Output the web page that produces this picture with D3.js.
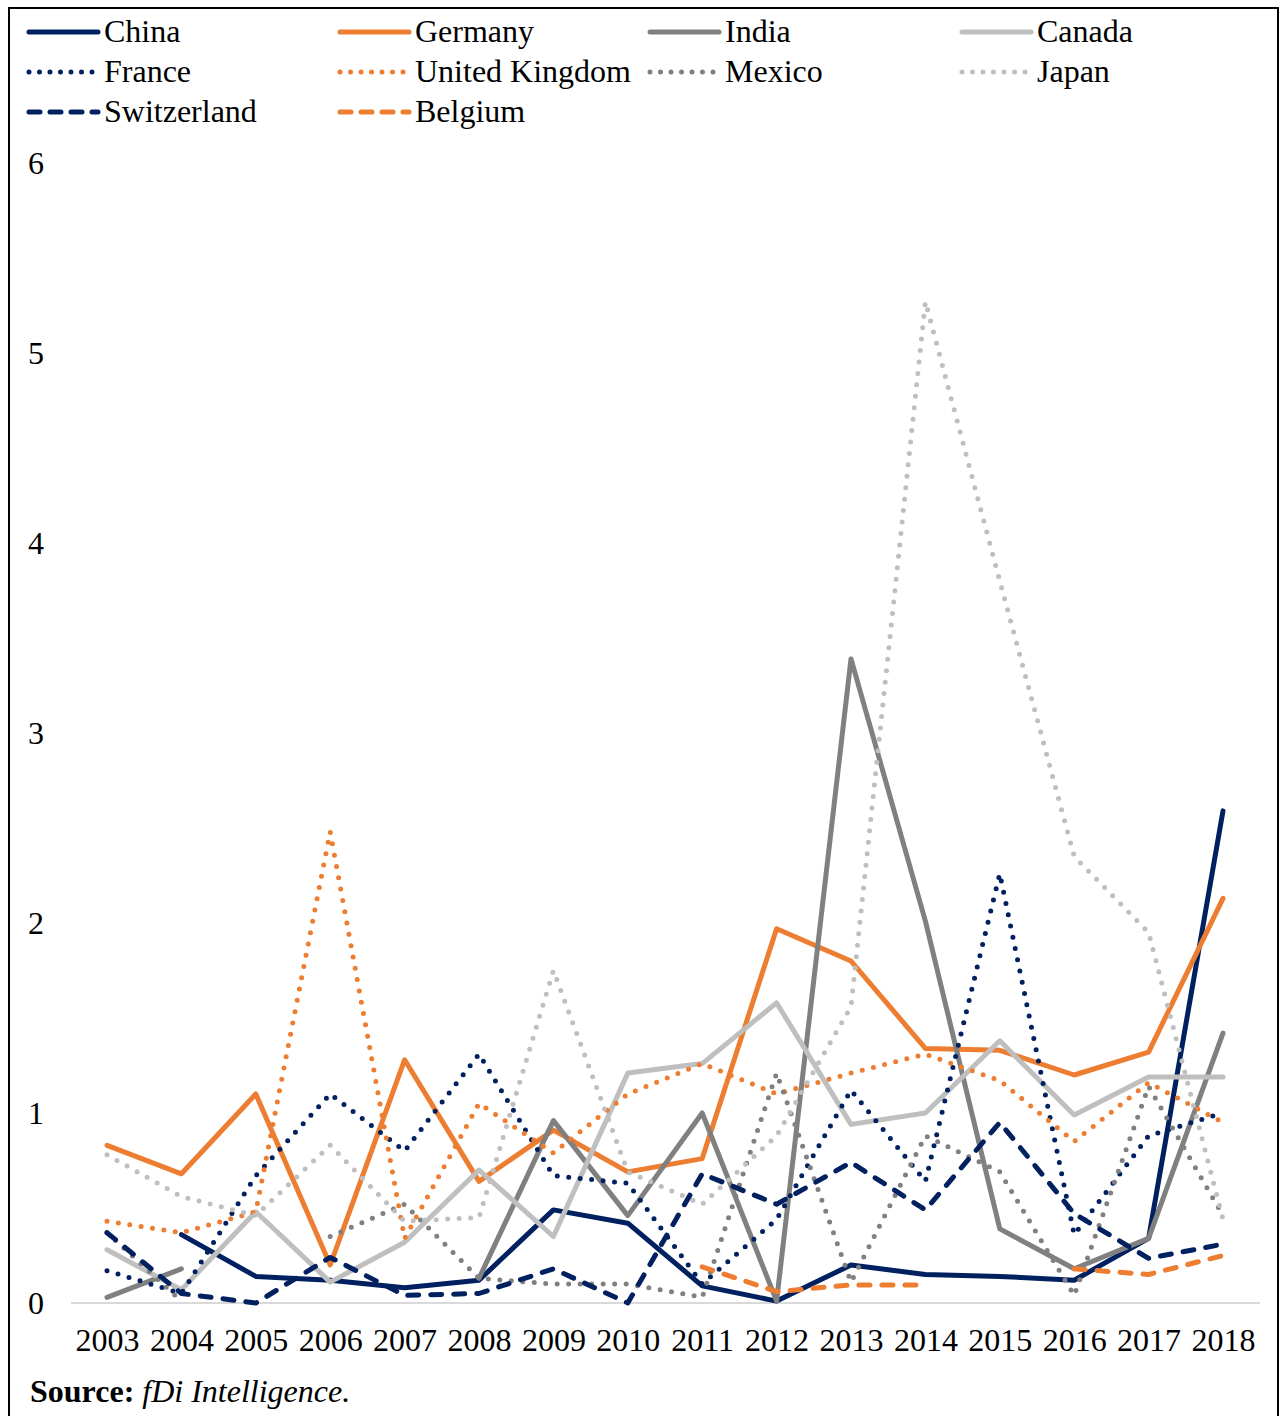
<!DOCTYPE html>
<html>
<head>
<meta charset="utf-8">
<script src="https://cdn.jsdelivr.net/npm/d3@7"></script>
<style>
  html, body { margin: 0; padding: 0; background: #fff; }
  svg { display: block; }
  text { font-family: "Liberation Serif", "Times New Roman", serif; fill: #000; }
</style>
</head>
<body>
<svg id="chart" width="1280" height="1416"></svg>
<script>
// ---------- data ----------
const years = ["2003","2004","2005","2006","2007","2008","2009","2010","2011","2012","2013","2014","2015","2016","2017","2018"];
const yTicks = [0, 1, 2, 3, 4, 5, 6];

const china       = [null, 0.36, 0.14, 0.12, 0.08, 0.12, 0.49, 0.42, 0.09, 0.01, 0.20, 0.15, 0.14, 0.12, 0.34, 2.59];
const germany     = [0.83, 0.68, 1.10, 0.20, 1.28, 0.64, 0.91, 0.69, 0.76, 1.97, 1.80, 1.34, 1.33, 1.20, 1.32, 2.13];
const india       = [0.03, 0.18, null, null, null, 0.13, 0.96, 0.46, 1.00, 0.01, 3.39, 2.01, 0.39, 0.18, 0.34, 1.42];
const canada      = [0.28, 0.07, 0.48, 0.11, 0.32, 0.70, 0.35, 1.21, 1.26, 1.58, 0.94, 1.00, 1.38, 0.99, 1.19, 1.19];
const france      = [0.17, 0.05, 0.67, 1.10, 0.80, 1.31, 0.67, 0.63, 0.10, 0.44, 1.12, 0.64, 2.26, 0.36, 0.88, 1.00];
const uk          = [0.43, 0.37, 0.48, 2.48, 0.34, 1.05, 0.79, 1.10, 1.26, 1.10, 1.21, 1.31, 1.17, 0.85, 1.16, 0.95];
const mexico      = [0.37, 0.01, null, 0.35, 0.52, 0.13, 0.10, 0.10, 0.03, 1.21, 0.11, 0.88, 0.69, 0.04, 1.14, 0.46];
const japan       = [0.78, 0.56, 0.46, 0.83, 0.43, 0.45, 1.75, 0.69, 0.52, 0.88, 1.56, 5.27, 3.80, 2.35, 1.95, 0.44];
const switzerland = [0.37, 0.05, 0.00, 0.24, 0.04, 0.05, 0.18, 0.00, 0.68, 0.52, 0.74, 0.49, 0.95, 0.47, 0.235, 0.31];
const belgium     = [null, null, null, null, null, null, null, null, 0.19, 0.06, 0.095, 0.095, null, 0.18, 0.15, 0.25];

const seriesNames  = ["China", "Germany", "India", "Canada", "France", "United Kingdom", "Mexico", "Japan", "Switzerland", "Belgium"];
const seriesValues = [china, germany, india, canada, france, uk, mexico, japan, switzerland, belgium];
const seriesColors = ["#002060", "#ED7D31", "#808080", "#BFBFBF", "#002060", "#ED7D31", "#808080", "#BFBFBF", "#002060", "#ED7D31"];
const seriesStyles = ["solid", "solid", "solid", "solid", "dot", "dot", "dot", "dot", "dash", "dash"];

// ---------- layout ----------
const svg = d3.select("#chart");
const x = d3.scalePoint().domain(years).range([107, 1223]);
const y = d3.scaleLinear().domain([0, 6]).range([1303, 163]);
const FS = 32;

const dashFor = s => s === "dot" ? "0 11.5" : s === "dash" ? "11 12" : null;

// frame
svg.append("rect")
  .attr("x", 9).attr("y", 8).attr("width", 1269).attr("height", 1420)
  .attr("fill", "none").attr("stroke", "#000").attr("stroke-width", 2);

// baseline axis line
svg.append("line")
  .attr("x1", 71).attr("x2", 1260)
  .attr("y1", y(0)).attr("y2", y(0))
  .attr("stroke", "#D9D9D9").attr("stroke-width", 2);

// y axis labels
const yAxis = svg.append("g")
  .attr("transform", "translate(36,0)")
  .call(d3.axisLeft(y).tickValues(yTicks).tickSize(0).tickPadding(0).tickFormat(d3.format("d")));
yAxis.select(".domain").remove();
yAxis.selectAll("text")
  .attr("text-anchor", "middle")
  .attr("x", 0)
  .style("font-family", '"Liberation Serif", "Times New Roman", serif')
  .style("font-size", FS + "px")
  .attr("fill", "#000");

// x axis labels
const xAxis = svg.append("g")
  .attr("transform", `translate(0,${y(0)})`)
  .call(d3.axisBottom(x).tickSize(0).tickPadding(25));
xAxis.select(".domain").remove();
xAxis.selectAll("text")
  .style("font-family", '"Liberation Serif", "Times New Roman", serif')
  .style("font-size", FS + "px")
  .attr("fill", "#000");

// lines
const line = d3.line()
  .defined(d => d.v !== null)
  .x(d => x(d.year))
  .y(d => y(d.v));

const plot = svg.append("g");
seriesNames.forEach((name, i) => {
  const data = years.map((yr, j) => ({ year: yr, v: seriesValues[i][j] }));
  plot.append("path")
    .datum(data)
    .attr("d", line)
    .attr("fill", "none")
    .attr("stroke", seriesColors[i])
    .attr("stroke-width", 5)
    .attr("stroke-linecap", "round")
    .attr("stroke-linejoin", "round")
    .attr("stroke-dasharray", dashFor(seriesStyles[i]));
});

// legend
const legendCols = [27, 338, 648, 960];
const legendRows = [32, 72, 112];
const legend = svg.append("g");
seriesNames.forEach((name, i) => {
  const cx = legendCols[i % 4];
  const cy = legendRows[Math.floor(i / 4)];
  legend.append("line")
    .attr("x1", cx + 2).attr("x2", cx + 71)
    .attr("y1", cy).attr("y2", cy)
    .attr("stroke", seriesColors[i])
    .attr("stroke-width", 5)
    .attr("stroke-linecap", "round")
    .attr("stroke-dasharray", seriesStyles[i] === "dot" ? "0 10.5" : seriesStyles[i] === "dash" ? "11 10" : null);
  legend.append("text")
    .attr("x", cx + 77).attr("y", cy + 10)
    .style("font-size", FS + "px")
    .text(name);
});

// source
const src = svg.append("text")
  .attr("x", 30).attr("y", 1402)
  .style("font-size", FS + "px");
src.append("tspan").style("font-weight", "bold").text("Source:");
src.append("tspan").style("font-style", "italic").text(" fDi Intelligence.");
</script>
</body>
</html>
